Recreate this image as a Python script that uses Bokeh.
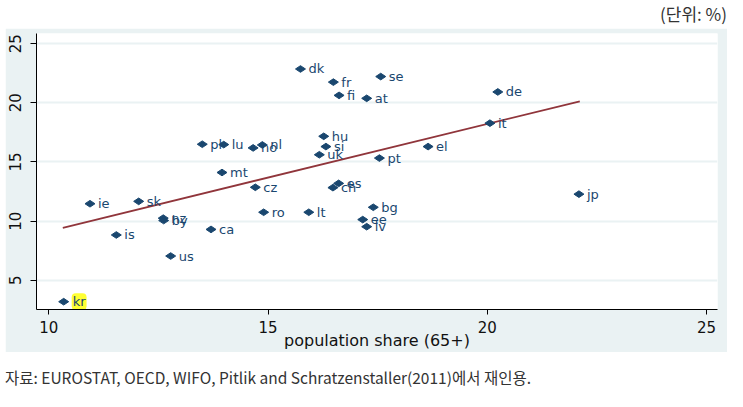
from bokeh.plotting import figure
from bokeh.models import ColumnDataSource, Div, FixedTicker
from bokeh.layouts import column
from bokeh.core.properties import value
from bokeh.embed import file_html
from bokeh.resources import INLINE
import math

# ---- data ----
countries = ["kr", "ie", "sk", "is", "nz", "by", "us", "ca", "mt", "cz",
             "ro", "lt", "ch", "es", "bg", "ee", "lv", "jp", "dk", "fr",
             "se", "fi", "at", "pl", "lu", "nl", "no", "hu", "si", "uk",
             "pt", "el", "it", "de"]
pop_share_65 = [10.34, 10.94, 12.05, 11.54, 12.61, 12.62, 12.78, 13.70, 13.95, 14.71,
                14.90, 15.93, 16.48, 16.61, 17.40, 17.16, 17.25, 22.09, 15.74, 16.49,
                17.57, 16.62, 17.25, 13.50, 13.99, 14.87, 14.66, 16.27, 16.32, 16.17,
                17.54, 18.65, 20.06, 20.24]
y_values = [3.19, 11.47, 11.67, 8.83, 10.25, 10.05, 7.05, 9.30, 14.11, 12.86,
            10.75, 10.75, 12.83, 13.19, 11.17, 10.13, 9.53, 12.28, 22.86, 21.75,
            22.22, 20.63, 20.38, 16.50, 16.47, 16.44, 16.19, 17.17, 16.30, 15.61,
            15.33, 16.30, 18.28, 20.92]
highlight = ["kr"]

fit_x = [10.32, 22.11]
fit_y = [9.44, 20.13]

x_ticks = [10, 15, 20, 25]
y_ticks = [5, 10, 15, 20, 25]

x_label = "population share (65+)"
unit_text = "(단위: %)"
source_text = "자료: EUROSTAT, OECD, WIFO, Pitlik and Schratzenstaller(2011)에서 재인용."

# ---- styling ----
NAVY = "#1a476f"
MAROON = "#90353b"
PANEL = "#eaf2f3"

src_all = ColumnDataSource(dict(x=pop_share_65, y=y_values, name=countries))
hi_idx = [i for i, c in enumerate(countries) if c in highlight]
lo_idx = [i for i, c in enumerate(countries) if c not in highlight]
src_lbl = ColumnDataSource(dict(x=[pop_share_65[i] for i in lo_idx],
                                y=[y_values[i] for i in lo_idx],
                                name=[countries[i] for i in lo_idx]))
src_hi = ColumnDataSource(dict(x=[pop_share_65[i] for i in hi_idx],
                               y=[y_values[i] for i in hi_idx],
                               name=[countries[i] for i in hi_idx]))

p = figure(width=722, height=324, x_range=(9.72, 25.25), y_range=(2.53, 25.86),
           output_backend="svg", toolbar_location=None,
           min_border_left=31, min_border_right=10, min_border_top=5,
           min_border_bottom=39, margin=(0, 0, 0, 5))
p.border_fill_color = PANEL
p.background_fill_color = "white"
p.outline_line_color = None

p.xgrid.grid_line_color = None
p.ygrid.grid_line_color = PANEL
p.ygrid.grid_line_width = 2
p.ygrid.ticker = FixedTicker(ticks=y_ticks)

for ax in (p.xaxis[0], p.yaxis[0]):
    ax.axis_line_color = "black"
    ax.axis_line_width = 1
    ax.major_tick_line_color = "black"
    ax.major_tick_in = 0
    ax.minor_tick_line_color = None
    ax.major_label_text_font = "DejaVu Sans"
    ax.major_label_text_font_size = "15px"
    ax.major_label_text_color = "#111111"

p.xaxis.ticker = FixedTicker(ticks=x_ticks)
p.xaxis.major_tick_out = 5
p.xaxis.major_label_standoff = 6
p.xaxis.axis_label = x_label
p.xaxis.axis_label_text_font = "DejaVu Sans"
p.xaxis.axis_label_text_font_size = "16px"
p.xaxis.axis_label_text_font_style = "normal"
p.xaxis.axis_label_text_color = "#111111"
p.xaxis.axis_label_standoff = -5

p.yaxis.ticker = FixedTicker(ticks=y_ticks)
p.yaxis.major_tick_out = 6
p.yaxis.major_label_orientation = "vertical"
p.yaxis.major_label_standoff = 9

p.line(fit_x, fit_y, line_color=MAROON, line_width=1.8)
p.scatter("x", "y", source=src_all, marker="diamond", size=10, angle=math.pi / 2,
          fill_color=NAVY, line_color=NAVY)
p.text("x", "y", text="name", source=src_lbl, x_offset=8, text_baseline="middle",
       text_font=value("DejaVu Sans"), text_font_size="13px", text_color=NAVY)
p.text("x", "y", text="name", source=src_hi, x_offset=8, text_baseline="middle",
       text_font=value("DejaVu Sans"), text_font_size="13px", text_color=NAVY,
       background_fill_color="#ffff33", padding=1, border_radius=4)

title_div = Div(text=unit_text, width=727, height=28, margin=(0, 0, 0, 0),
                styles={"text-align": "right", "font-family": "Noto Sans CJK KR",
                        "font-size": "17px", "color": "#333333",
                        "line-height": "28px", "white-space": "nowrap"})
caption_div = Div(text=source_text, width=735, height=55, margin=(0, 0, 0, 5),
                  styles={"font-family": "Noto Sans CJK KR", "font-size": "15.5px",
                          "color": "#333333", "padding-top": "17px",
                          "line-height": "16px", "white-space": "nowrap"})

layout = column(title_div, p, caption_div, spacing=0)

with open("out.html", "w") as f:
    f.write(file_html(layout, INLINE))
